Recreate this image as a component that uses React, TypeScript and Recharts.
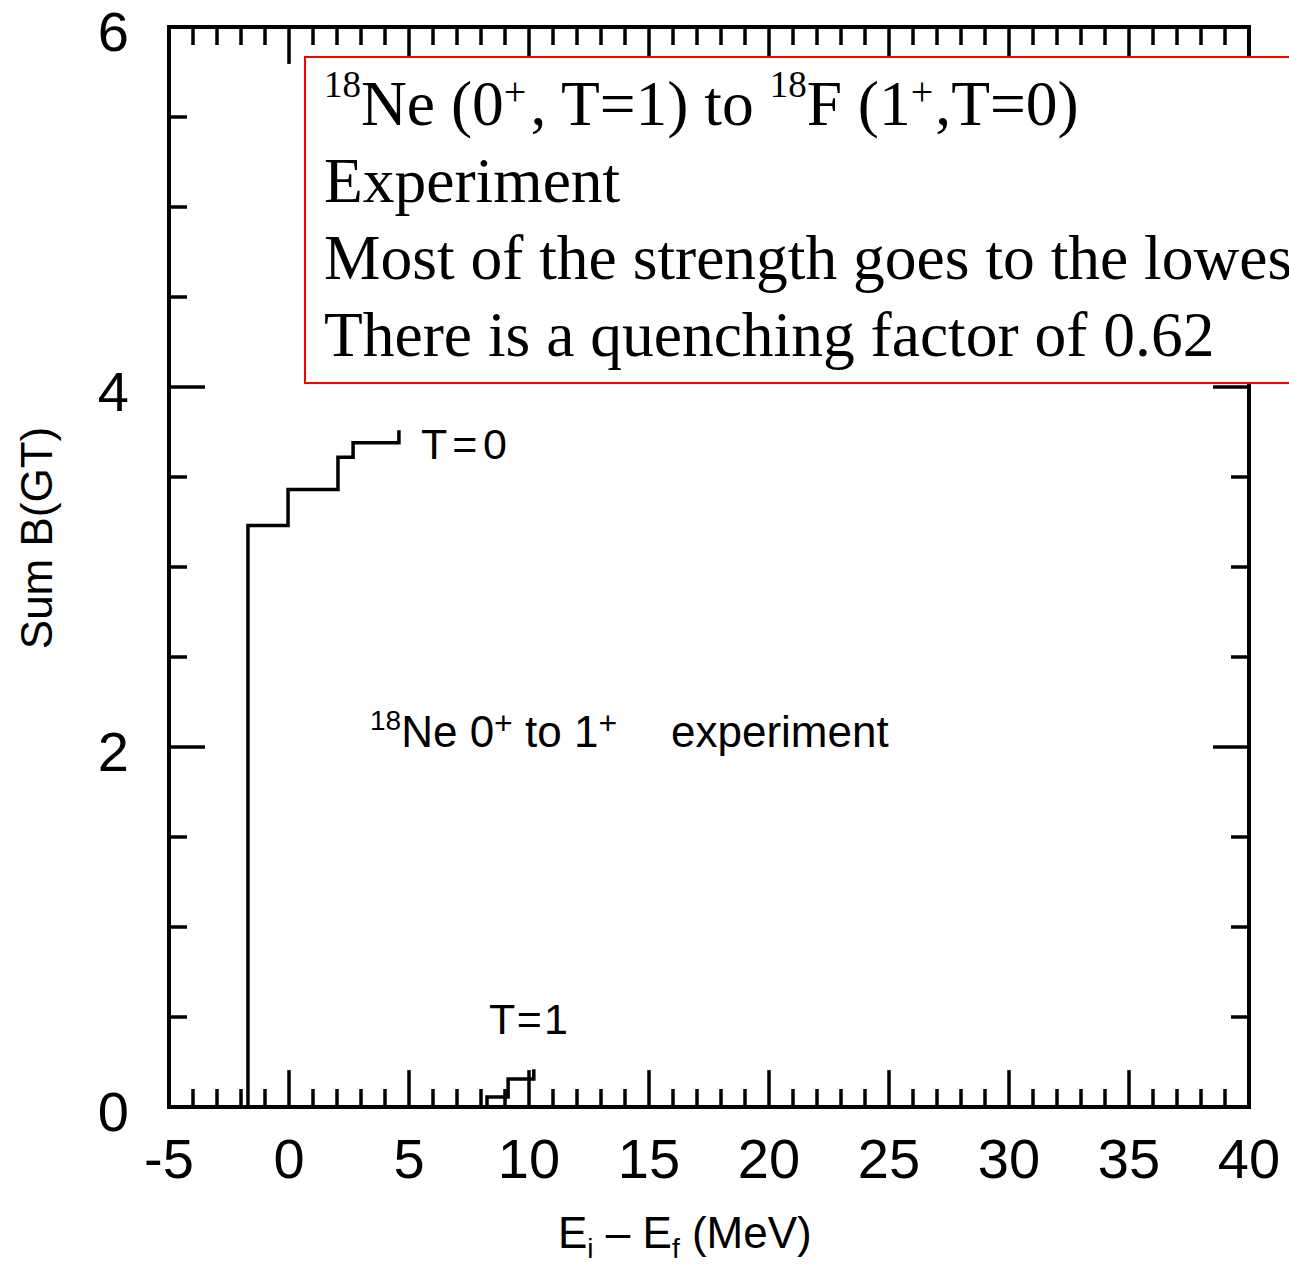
import React from "react";
import {
  ComposedChart,
  Line,
  XAxis,
  YAxis,
  ReferenceLine,
  ReferenceArea,
} from "recharts";

// cumulative B(GT) (step points)
const energyT0 = [-1.71, -1.71, -0.04, 2.04, 2.67, 4.58];
const sumT0 = [0, 3.23, 3.43, 3.61, 3.69, 3.76];
const energyT1 = [8.25, 8.25, 9.13, 10.2];
const sumT1 = [0, 0.055, 0.155, 0.21];

const xTickLabels = [-5, 0, 5, 10, 15, 20, 25, 30, 35, 40];
const yTickLabels = [0, 2, 4, 6];

const X_MIN = -5;
const X_MAX = 40;
const Y_MIN = 0;
const Y_MAX = 6;

// inward tick marks: every 1 MeV on x, every 0.5 on y
const xMinor: number[] = [];
for (let v = X_MIN + 1; v < X_MAX; v++) xMinor.push(v);
const yMinor: number[] = [];
for (let v = Y_MIN + 0.5; v < Y_MAX; v += 0.5) yMinor.push(v);

const SANS = "'Liberation Sans', Arial, Helvetica, sans-serif";
const SERIF = "'Liberation Serif', 'Times New Roman', serif";

const toRows = (xs: number[], ys: number[]) => xs.map((e, i) => ({ e, b: ys[i] }));
const rowsT0 = toRows(energyT0, sumT0);
const rowsT1 = toRows(energyT1, sumT1);

const XTick = (props: any) => {
  const { x, y, payload } = props;
  return (
    <text x={x} y={y + 71} textAnchor="middle" fontSize={56} fontFamily={SANS} fill="#000">
      {payload.value}
    </text>
  );
};

const YTick = (props: any) => {
  const { x, y, payload } = props;
  return (
    <text x={x - 40} y={y + 24} textAnchor="end" fontSize={56} fontFamily={SANS} fill="#000">
      {payload.value}
    </text>
  );
};

const sup = (top: number, size: number, extra = 0): React.CSSProperties => ({
  fontSize: size,
  position: "relative",
  top,
  lineHeight: 0,
  marginRight: extra,
});

export default function App() {
  const tickColor = "#000";
  const tw = 3.5;
  return (
    <div
      style={{
        position: "absolute",
        left: 0,
        top: 0,
        width: 1289,
        height: 1266,
        overflow: "hidden",
        background: "#fff",
      }}
    >
      <ComposedChart
        width={1289}
        height={1266}
        margin={{ top: 27, right: 40, bottom: 99, left: 109 }}
      >
        <XAxis
          type="number"
          dataKey="e"
          domain={[X_MIN, X_MAX]}
          ticks={xTickLabels}
          interval={0}
          allowDataOverflow
          axisLine={false}
          tickLine={false}
          tickSize={0}
          tickMargin={0}
          height={60}
          tick={<XTick />}
        />
        <YAxis
          type="number"
          domain={[Y_MIN, Y_MAX]}
          ticks={yTickLabels}
          interval={0}
          allowDataOverflow
          axisLine={false}
          tickLine={false}
          tickSize={0}
          tickMargin={0}
          width={60}
          tick={<YTick />}
        />

        {xMinor.map((v) => {
          const len = v % 5 === 0 ? 0.205 : 0.1;
          return [
            <ReferenceLine
              key={`xb${v}`}
              segment={[{ x: v, y: Y_MIN }, { x: v, y: Y_MIN + len }]}
              stroke={tickColor}
              strokeWidth={tw}
              ifOverflow="visible"
            />,
            <ReferenceLine
              key={`xt${v}`}
              segment={[{ x: v, y: Y_MAX }, { x: v, y: Y_MAX - len }]}
              stroke={tickColor}
              strokeWidth={tw}
              ifOverflow="visible"
            />,
          ];
        })}
        {yMinor.map((v) => {
          const len = v % 2 === 0 ? 1.5 : 0.75;
          return [
            <ReferenceLine
              key={`yl${v}`}
              segment={[{ x: X_MIN, y: v }, { x: X_MIN + len, y: v }]}
              stroke={tickColor}
              strokeWidth={tw}
              ifOverflow="visible"
            />,
            <ReferenceLine
              key={`yr${v}`}
              segment={[{ x: X_MAX, y: v }, { x: X_MAX - len, y: v }]}
              stroke={tickColor}
              strokeWidth={tw}
              ifOverflow="visible"
            />,
          ];
        })}

        <Line
          data={rowsT0}
          dataKey="b"
          type="stepAfter"
          stroke="#000"
          strokeWidth={3.5}
          dot={false}
          activeDot={false}
          isAnimationActive={false}
        />
        <Line
          data={rowsT1}
          dataKey="b"
          type="stepAfter"
          stroke="#000"
          strokeWidth={3.5}
          dot={false}
          activeDot={false}
          isAnimationActive={false}
        />

        <ReferenceArea
          x1={X_MIN}
          x2={X_MAX}
          y1={Y_MIN}
          y2={Y_MAX}
          fill="none"
          fillOpacity={0}
          stroke="#000"
          strokeWidth={4}
          ifOverflow="visible"
        />
      </ComposedChart>

      {/* text annotations */}
      <svg
        width={1289}
        height={1266}
        style={{ position: "absolute", left: 0, top: 0, pointerEvents: "none" }}
        fontFamily={SANS}
        fill="#000"
      >
        <text transform="translate(52,538) rotate(-90)" textAnchor="middle" fontSize={44}>
          Sum B(GT)
        </text>
        <text x={558} y={1248} fontSize={44}>
          E<tspan fontSize={28} dy={10}>i</tspan>
          <tspan dy={-10}> – E</tspan>
          <tspan fontSize={28} dy={10}>f</tspan>
          <tspan dy={-10}> (MeV)</tspan>
        </text>
        <text x={421} y={459} fontSize={43} textLength={86} lengthAdjust="spacing">
          T = 0
        </text>
        <text x={489} y={1034} fontSize={43} textLength={79} lengthAdjust="spacing">
          T = 1
        </text>
        <text x={370} y={747} fontSize={44}>
          <tspan fontSize={28} dy={-17}>18</tspan>
          <tspan dy={17}>Ne 0</tspan>
          <tspan fontSize={32} dy={-13}>+</tspan>
          <tspan dy={13}> to 1</tspan>
          <tspan fontSize={32} dy={-13}>+</tspan>
          <tspan dy={13} x={671}>experiment</tspan>
        </text>
      </svg>

      {/* red-bordered text box */}
      <div
        style={{
          position: "absolute",
          left: 304,
          top: 56,
          width: 1100,
          height: 328,
          boxSizing: "border-box",
          border: "2px solid #ff0000",
          background: "#fff",
          paddingTop: 7,
          paddingLeft: 18,
          fontFamily: SERIF,
          fontSize: 63.5,
          lineHeight: "77px",
          whiteSpace: "nowrap",
          color: "#000",
        }}
      >
        <div>
          <span style={sup(-28, 37)}>18</span>Ne (0<span style={sup(-20, 40, 4)}>+</span>, T=1) to{" "}
          <span style={sup(-28, 37)}>18</span>F (1<span style={sup(-20, 40, 2)}>+</span>,T=0)
        </div>
        <div>Experiment</div>
        <div>Most of the strength goes to the lowest</div>
        <div>There is a quenching factor of 0.62</div>
      </div>
    </div>
  );
}
